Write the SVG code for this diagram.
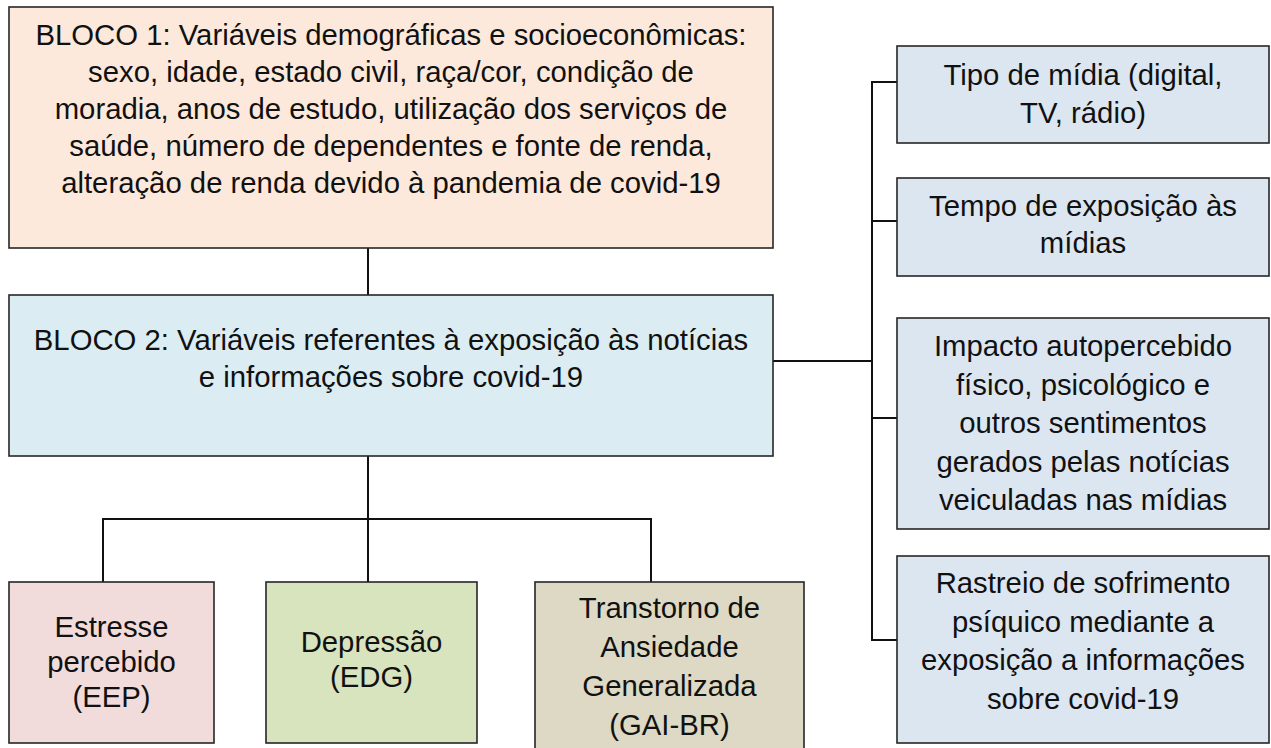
<svg xmlns="http://www.w3.org/2000/svg" width="1271" height="748" viewBox="0 0 1271 748">
<style>
  .box { stroke: #262626; stroke-width: 1.6; }
  .t { font-family: "Liberation Sans", Arial, sans-serif; font-size: 29.3px; fill: #111; text-anchor: middle; }
  .c { fill: none; stroke: #111; stroke-width: 2; }
</style>
<rect width="1271" height="748" fill="#ffffff"/>
<g id="connectors">
  <path class="c" d="M368 248 V295"/>
  <path class="c" d="M368 456 V582"/>
  <path class="c" d="M103 582 V519 H651 V582"/>
  <path class="c" d="M773 361 H872"/>
  <path class="c" d="M897 82 H872 V640 H897"/>
  <path class="c" d="M872 221 H897"/>
  <path class="c" d="M872 418 H897"/>
</g>
<g id="bloco1">
  <rect class="box" x="9" y="7" width="764" height="241" fill="#FCE9DB"/>
  <text class="t" x="391" y="45">BLOCO 1: Variáveis demográficas e socioeconômicas:</text>
  <text class="t" x="391" y="82">sexo, idade, estado civil, raça/cor, condição de</text>
  <text class="t" x="391" y="119">moradia, anos de estudo, utilização dos serviços de</text>
  <text class="t" x="391" y="156">saúde, número de dependentes e fonte de renda,</text>
  <text class="t" x="391" y="193">alteração de renda devido à pandemia de covid-19</text>
</g>
<g id="bloco2">
  <rect class="box" x="9" y="295" width="764" height="161" fill="#DBEDF3"/>
  <text class="t" x="391" y="350">BLOCO 2: Variáveis referentes à exposição às notícias</text>
  <text class="t" x="391" y="387">e informações sobre covid-19</text>
</g>
<g id="tipo">
  <rect class="box" x="897" y="46" width="372" height="97" fill="#DCE6F1"/>
  <text class="t" x="1083" y="85">Tipo de mídia (digital,</text>
  <text class="t" x="1083" y="123">TV, rádio)</text>
</g>
<g id="tempo">
  <rect class="box" x="897" y="178" width="372" height="98" fill="#DCE6F1"/>
  <text class="t" x="1083" y="216">Tempo de exposição às</text>
  <text class="t" x="1083" y="253">mídias</text>
</g>
<g id="impacto">
  <rect class="box" x="897" y="318" width="372" height="211" fill="#DCE6F1"/>
  <text class="t" x="1083" y="356">Impacto autopercebido</text>
  <text class="t" x="1083" y="394.5">físico, psicológico e</text>
  <text class="t" x="1083" y="433">outros sentimentos</text>
  <text class="t" x="1083" y="471.5">gerados pelas notícias</text>
  <text class="t" x="1083" y="510">veiculadas nas mídias</text>
</g>
<g id="rastreio">
  <rect class="box" x="897" y="556" width="372" height="187" fill="#DCE6F1"/>
  <text class="t" x="1083" y="593">Rastreio de sofrimento</text>
  <text class="t" x="1083" y="631.5">psíquico mediante a</text>
  <text class="t" x="1083" y="670">exposição a informações</text>
  <text class="t" x="1083" y="709">sobre covid-19</text>
</g>
<g id="estresse">
  <rect class="box" x="9" y="582" width="205" height="161" fill="#F2DCDB"/>
  <text class="t" x="111.5" y="637">Estresse</text>
  <text class="t" x="111.5" y="672">percebido</text>
  <text class="t" x="111.5" y="707">(EEP)</text>
</g>
<g id="depressao">
  <rect class="box" x="266" y="582" width="211" height="161" fill="#D8E4BE"/>
  <text class="t" x="371.5" y="652">Depressão</text>
  <text class="t" x="371.5" y="687">(EDG)</text>
</g>
<g id="transtorno">
  <rect class="box" x="535" y="582" width="269" height="180" fill="#DDD9C4"/>
  <text class="t" x="669.5" y="618">Transtorno de</text>
  <text class="t" x="669.5" y="657">Ansiedade</text>
  <text class="t" x="669.5" y="696">Generalizada</text>
  <text class="t" x="669.5" y="735">(GAI-BR)</text>
</g>
</svg>
